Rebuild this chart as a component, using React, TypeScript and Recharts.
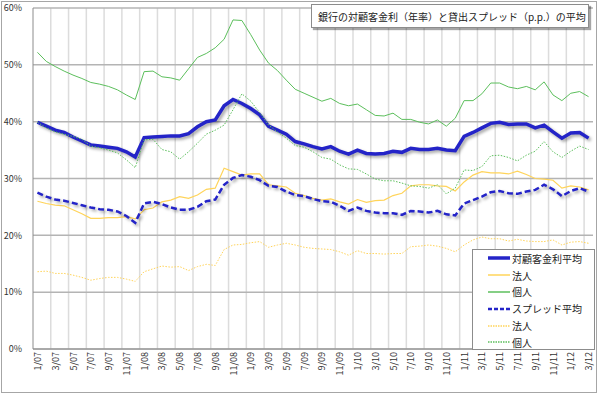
import React from 'react';
import { LineChart, Line, XAxis, YAxis, CartesianGrid } from 'recharts';

const months = [
  '1/07', '2/07', '3/07', '4/07', '5/07', '6/07', '7/07', '8/07', '9/07', '10/07', '11/07', '12/07',
  '1/08', '2/08', '3/08', '4/08', '5/08', '6/08', '7/08', '8/08', '9/08', '10/08', '11/08', '12/08',
  '1/09', '2/09', '3/09', '4/09', '5/09', '6/09', '7/09', '8/09', '9/09', '10/09', '11/09', '12/09',
  '1/10', '2/10', '3/10', '4/10', '5/10', '6/10', '7/10', '8/10', '9/10', '10/10', '11/10', '12/10',
  '1/11', '2/11', '3/11', '4/11', '5/11', '6/11', '7/11', '8/11', '9/11', '10/11', '11/11', '12/11',
  '1/12', '2/12', '3/12',
];

// 対顧客金利（年率, %）
const rateAvg = [
  39.9, 39.2, 38.5, 38.1, 37.3, 36.6, 35.9, 35.7, 35.5, 35.3, 34.7, 33.8,
  37.2, 37.3, 37.4, 37.5, 37.5, 37.9, 39.1, 40.0, 40.3, 42.8, 43.9, 43.2,
  42.3, 41.2, 39.2, 38.5, 37.8, 36.5, 36.1, 35.6, 35.2, 35.6, 34.8, 34.3,
  35.0, 34.4, 34.3, 34.4, 34.8, 34.6, 35.3, 35.1, 35.1, 35.3, 35.0, 34.9,
  37.4, 38.1, 38.9, 39.7, 39.9, 39.5, 39.6, 39.6, 38.9, 39.4, 38.2, 37.1,
  38.0, 38.1, 37.1,
];
const rateCorp = [
  26.0, 25.6, 25.3, 25.2, 24.5, 23.8, 23.0, 23.0, 23.1, 23.1, 23.3, 22.9,
  24.5, 24.8, 25.9, 26.2, 26.8, 26.5, 27.1, 28.1, 28.3, 31.8, 31.2, 30.6,
  30.8, 30.8, 28.9, 28.7, 28.5, 27.4, 27.0, 26.5, 26.2, 26.4, 25.9, 25.5,
  26.3, 25.8, 26.1, 26.2, 27.0, 27.4, 28.7, 28.9, 28.9, 28.7, 28.6, 27.8,
  29.4, 30.6, 31.2, 31.0, 31.0, 30.8, 31.3, 30.7, 30.0, 29.9, 29.7, 28.3,
  28.7, 28.5, 28.0,
];
const ratePers = [
  52.2, 50.6, 49.7, 48.9, 48.2, 47.6, 46.9, 46.6, 46.2, 45.6, 44.7, 43.9,
  48.8, 48.9, 47.9, 47.7, 47.3, 49.3, 51.3, 52.0, 53.0, 54.5, 57.9, 57.8,
  55.3, 52.6, 50.3, 49.0, 47.3, 45.7, 45.0, 44.3, 43.6, 44.1, 43.2, 42.8,
  43.1, 42.1, 41.1, 41.0, 41.5, 40.4, 40.4, 39.9, 39.6, 40.3, 39.2, 40.6,
  43.7, 43.7, 44.9, 46.8, 46.8, 46.1, 45.8, 46.2, 45.6, 47.0, 44.7, 43.7,
  45.0, 45.3, 44.4,
];

// 貸出スプレッド（p.p.）
const spreadAvg = [
  27.5, 26.8, 26.3, 26.1, 25.7, 25.3, 24.9, 24.6, 24.5, 24.2, 23.4, 22.2,
  25.6, 25.9, 25.5, 24.9, 24.5, 24.5, 25.0, 26.0, 26.3, 28.9, 30.1, 30.6,
  30.3, 29.7, 28.7, 28.5, 27.7, 27.1, 26.9, 26.4, 26.0, 25.9, 25.2, 24.3,
  24.9, 24.3, 24.0, 23.9, 23.9, 23.6, 24.3, 24.2, 24.0, 24.3, 23.7, 23.5,
  25.6, 26.2, 26.8, 27.6, 27.8, 27.4, 27.3, 27.7, 28.0, 28.9, 28.1, 26.9,
  27.8, 28.3, 27.7,
];
const spreadCorp = [
  13.6, 13.7, 13.3, 13.3, 13.0, 12.6, 12.1, 12.4, 12.6, 12.6, 12.3, 11.9,
  13.6, 14.1, 14.6, 14.4, 14.5, 13.8, 14.5, 14.9, 14.7, 17.5, 18.3, 18.4,
  18.7, 18.9, 17.9, 18.3, 18.6, 18.3, 17.9, 17.7, 17.6, 17.5, 17.1, 16.5,
  17.3, 16.8, 16.8, 16.7, 16.8, 16.8, 18.0, 18.1, 18.3, 18.1, 17.7, 17.1,
  18.3, 19.2, 19.7, 19.4, 19.4, 19.0, 19.3, 19.0, 18.9, 18.9, 19.2, 18.3,
  18.8, 18.9, 18.6,
];
const spreadPers = [
  39.9, 38.9, 38.2, 37.8, 37.4, 36.9, 35.7, 35.4, 35.0, 34.5, 33.3, 31.9,
  36.8, 36.9, 35.1, 34.7, 33.4, 34.7, 36.2, 37.8, 38.5, 39.4, 42.1, 44.9,
  43.6, 41.6, 39.4, 38.2, 37.1, 35.8, 35.5, 34.7, 33.7, 33.4, 32.4, 31.7,
  31.6, 30.8, 29.9, 29.6, 29.6, 29.2, 28.7, 28.6, 28.3, 28.9, 27.3, 28.3,
  31.5, 31.4, 32.1, 34.0, 34.1, 33.7, 33.1, 34.1, 34.8, 36.5, 34.7, 33.7,
  34.8, 35.7, 35.1,
];

const yTicks = [0, 10, 20, 30, 40, 50, 60];

const BLUE = '#2424c8';
const YELLOW = '#ffd45a';
const GREEN = '#5cbf5c';
const FONT = '"Noto Sans CJK JP", "Noto Sans", sans-serif';

const series = [
  { key: 'rateAvg', name: '対顧客金利平均', color: BLUE, width: 3.5, dash: undefined, shadow: true },
  { key: 'rateCorp', name: '法人', color: YELLOW, width: 1.2, dash: undefined, shadow: false },
  { key: 'ratePers', name: '個人', color: GREEN, width: 1, dash: undefined, shadow: false },
  { key: 'spreadAvg', name: 'スプレッド平均', color: BLUE, width: 2.5, dash: '6 3', shadow: true },
  { key: 'spreadCorp', name: '法人', color: YELLOW, width: 1, dash: '1.5 1.5', shadow: false },
  { key: 'spreadPers', name: '個人', color: GREEN, width: 1, dash: '1.5 1.5', shadow: false },
];

const data = months.map((month, i) => ({
  month,
  rateAvg: rateAvg[i],
  rateCorp: rateCorp[i],
  ratePers: ratePers[i],
  spreadAvg: spreadAvg[i],
  spreadCorp: spreadCorp[i],
  spreadPers: spreadPers[i],
}));

const W = 599;
const H = 394;
const MARGIN = { top: 8, right: 6, bottom: 5, left: 5 };
const Y_AXIS_W = 28;
const PLOT_W = W - MARGIN.left - Y_AXIS_W - MARGIN.right;
const BAND = PLOT_W / months.length;

const XTick = ({ x, y, payload }: any) => (
  <text
    x={x}
    y={y}
    transform={`rotate(-90 ${x} ${y})`}
    textAnchor="end"
    dominantBaseline="central"
    fontSize={9}
    fontFamily={FONT}
    fill="#333"
  >
    {payload.value}
  </text>
);

// vertical gridlines sit on category boundaries, one every two months
const gridX = ({ offset }: any) => {
  const out: number[] = [];
  for (let k = 1; k * 2 <= months.length; k++) out.push(offset.left + k * 2 * BAND);
  return out;
};

function LegendBox() {
  return (
    <div
      style={{
        position: 'absolute',
        left: 472,
        top: 249,
        width: 121,
        height: 99,
        border: '1px solid #8c8c8c',
        background: '#fff',
        fontFamily: FONT,
        fontSize: 10,
        color: '#222',
        boxSizing: 'content-box',
      }}
    >
      {series.map((s, i) => (
        <div key={i} style={{ position: 'absolute', left: 15, top: 0 + i * 16.8, height: 16.8, display: 'flex', alignItems: 'center' }}>
          <svg width={22} height={8} style={{ marginRight: 2 }}>
            <line x1={0} y1={4} x2={22} y2={4} stroke={s.color} strokeWidth={Math.max(s.width, 1.5)} strokeDasharray={s.dash ? (s.width > 2 ? '4 2' : '1.5 1') : undefined} />
          </svg>
          <span>{s.name}</span>
        </div>
      ))}
    </div>
  );
}

export default function App() {
  return (
    <div style={{ position: 'relative', width: W, height: H, background: '#fff', fontFamily: FONT }}>
      <style>{`body{margin:0} .shadowLine{filter:drop-shadow(2px 2px 1.5px rgba(0,0,0,0.35));}`}</style>
      <div style={{ position: 'absolute', left: 1, top: 1, width: W - 5, height: H - 4, border: '1px solid #a6a6a6' }} />
      <LineChart width={W} height={H} data={data} margin={MARGIN}>
        <CartesianGrid
          stroke="#dcdcdc"
          strokeWidth={1.5}
          horizontal={false}
          verticalCoordinatesGenerator={gridX}
        />
        <CartesianGrid stroke="#b4b4b4" strokeWidth={1.5} vertical={false} />
        <XAxis
          dataKey="month"
          interval={1}
          padding={{ left: BAND / 2, right: BAND / 2 }}
          tick={<XTick />}
          tickLine={false}
          tickSize={3}
          tickMargin={0}
          height={40}
          axisLine={{ stroke: '#8c8c8c' }}
        />
        <YAxis
          domain={[0, 60]}
          ticks={yTicks}
          tickFormatter={(v: number) => `${v}%`}
          width={Y_AXIS_W}
          tickLine={false}
          tickMargin={5}
          tick={{ fontSize: 9, fill: '#333', fontFamily: FONT }}
          axisLine={{ stroke: '#8c8c8c' }}
        />
        {series.map((s) => (
          <Line
            key={s.key}
            dataKey={s.key}
            name={s.name}
            stroke={s.color}
            strokeWidth={s.width}
            strokeDasharray={s.dash}
            dot={false}
            activeDot={false}
            type="linear"
            className={s.shadow ? 'shadowLine' : undefined}
            isAnimationActive={false}
          />
        ))}
      </LineChart>
      <div
        style={{
          position: 'absolute',
          left: 311,
          top: 4,
          width: 278,
          height: 24,
          border: '1px solid #8c8c8c',
          boxShadow: '2px 2px 1px rgba(0,0,0,0.35)',
          background: '#fff',
          fontSize: 10,
          color: '#222',
          display: 'flex',
          alignItems: 'center',
          paddingLeft: 6,
          boxSizing: 'border-box',
          whiteSpace: 'nowrap',
        }}
      >
        銀行の対顧客金利（年率）と貸出スプレッド（p.p.）の平均
      </div>
      <LegendBox />
    </div>
  );
}
